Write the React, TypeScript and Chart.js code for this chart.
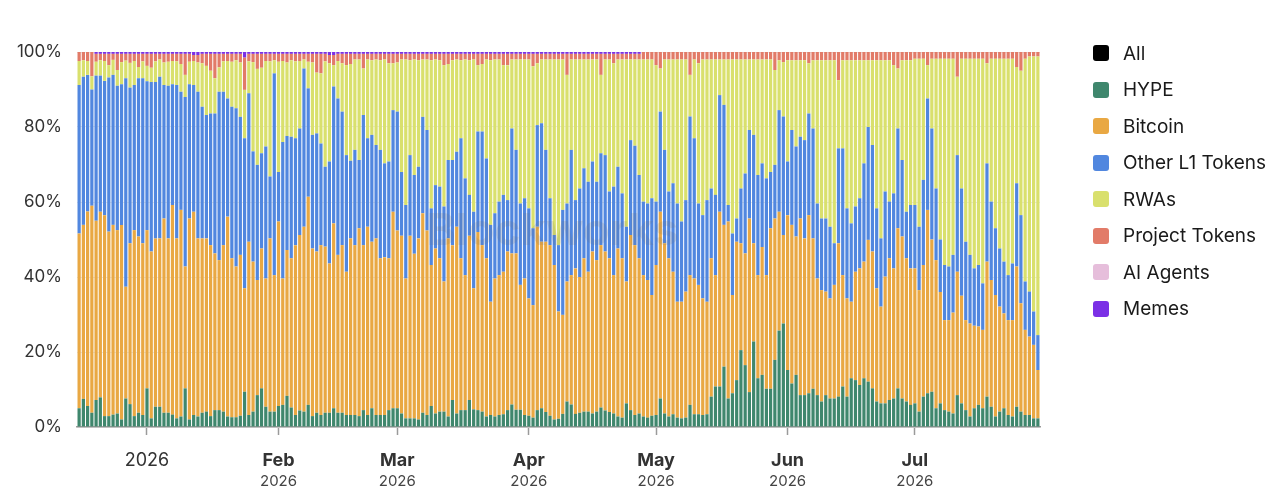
import React, { useEffect, useRef } from "react";
import { Chart, registerables } from "chart.js";

Chart.register(...registerables);

// ---- categories: one bar per day, 16 Dec 2025 .. 30 Jul 2026 ----
const START_DAY = Date.UTC(2025, 11, 16);
const DAY_COUNT = 227;
const dates: string[] = Array.from({ length: DAY_COUNT }, (_, i) =>
  new Date(START_DAY + i * 86400000).toISOString().slice(0, 10)
);

// ---- x tick labels (at month starts) ----
const tickMonthLine = ["2026", "Feb", "Mar", "Apr", "May", "Jun", "Jul"];
const tickYearLine = ["", "2026", "2026", "2026", "2026", "2026", "2026"];

// ---- y tick labels ----
const yTicks = [0, 20, 40, 60, 80, 100];

// ---- series (share of volume, %) ----
const hype = [
  5.0, 7.5, 5.6, 3.8, 7.2, 7.9, 2.9, 2.9, 3.3, 3.6, 2.0, 7.6, 6.1, 2.9, 3.8, 3.2, 10.3, 2.3, 5.4, 5.4, 3.8, 3.8, 3.3, 2.3, 2.8, 10.3, 2.0, 3.2, 2.8, 3.8, 4.1, 2.9, 4.5,
  4.5, 4.1, 2.8, 2.6, 2.6, 3.0, 9.4, 3.2, 4.1, 8.5, 10.3, 5.4, 4.1, 4.1, 5.6, 5.9, 8.3, 5.2, 3.2, 4.4, 4.1, 5.9, 2.9, 3.8, 3.2, 3.8, 3.8, 5.0, 3.8, 3.8, 3.2, 3.2,
  3.2, 2.9, 4.5, 3.2, 5.0, 3.2, 3.2, 3.2, 4.5, 5.0, 5.0, 3.6, 2.3, 2.3, 2.3, 2.0, 3.8, 3.2, 5.6, 3.6, 4.1, 4.1, 2.8, 7.2, 3.6, 4.5, 4.5, 7.2, 4.7, 4.5, 4.1, 2.8, 3.2,
  2.8, 3.2, 3.4, 4.5, 6.0, 4.6, 4.6, 3.2, 3.0, 2.5, 4.5, 5.0, 4.0, 3.0, 2.0, 2.2, 3.5, 6.8, 6.0, 3.5, 3.8, 4.1, 4.1, 3.6, 4.1, 5.2, 4.4, 4.0, 3.6, 2.8, 2.5, 6.3, 4.5,
  3.2, 3.6, 2.8, 2.5, 3.0, 3.2, 7.6, 3.6, 2.8, 3.4, 2.5, 2.3, 2.5, 5.9, 3.4, 3.4, 3.2, 3.4, 8.1, 10.8, 10.8, 16.1, 7.6, 9.0, 12.5, 20.5, 16.5, 9.3, 22.8, 13.0, 13.9, 10.2, 10.2,
  17.9, 25.7, 27.6, 15.2, 11.6, 13.9, 8.5, 8.5, 9.0, 10.2, 8.5, 6.8, 8.5, 7.6, 7.6, 8.1, 10.8, 8.1, 13.0, 12.5, 11.2, 13.0, 12.1, 10.3, 6.8, 6.3, 6.3, 7.2, 7.6, 10.3, 7.6, 6.8, 5.9,
  6.3, 4.1, 8.1, 9.0, 9.4, 5.0, 6.3, 4.5, 4.1, 3.6, 8.5, 6.3, 4.5, 2.8, 5.0, 5.9, 5.0, 8.1, 5.4, 2.8, 4.1, 5.0, 3.2, 2.8, 5.4, 4.1, 3.2, 3.2, 2.3, 2.3,
];

const bitcoin = [
  46.6, 46.4, 51.9, 55.2, 47.8, 49.5, 53.6, 49.2, 50.6, 48.9, 51.9, 29.8, 42.9, 49.6, 47.0, 45.8, 42.2, 44.5, 44.9, 44.9, 51.8, 46.5, 55.9, 48.0, 55.1, 32.5, 53.6, 54.2, 47.5, 46.5, 46.2, 45.6, 41.8,
  40.0, 44.4, 53.3, 42.4, 40.2, 42.9, 27.6, 46.2, 40.0, 30.7, 37.3, 34.2, 46.2, 36.4, 49.2, 33.7, 38.9, 39.8, 45.3, 46.8, 49.3, 55.5, 44.7, 43.0, 45.3, 44.3, 39.8, 49.3, 42.1, 44.7, 38.2, 47.1,
  45.3, 50.1, 44.0, 50.2, 44.4, 47.1, 41.8, 42.1, 40.5, 52.4, 47.4, 47.4, 37.3, 48.7, 43.9, 48.3, 53.2, 49.2, 37.6, 44.0, 40.9, 34.7, 47.5, 41.3, 49.8, 40.5, 36.0, 43.8, 32.3, 47.5, 44.4, 42.2, 30.2,
  36.8, 37.3, 38.0, 42.3, 40.3, 41.7, 33.3, 36.4, 31.3, 30.0, 48.9, 44.4, 45.4, 45.5, 41.2, 28.6, 26.4, 32.0, 34.5, 38.8, 36.2, 40.9, 37.3, 43.2, 40.4, 43.3, 42.4, 41.0, 36.9, 44.8, 42.5, 32.5, 46.7,
  45.3, 41.4, 37.7, 36.7, 32.2, 40.0, 49.8, 45.4, 42.2, 38.0, 30.9, 31.1, 33.6, 34.6, 36.2, 34.5, 31.1, 30.0, 36.9, 29.7, 46.6, 37.8, 47.2, 26.2, 36.9, 28.5, 29.8, 46.3, 26.2, 27.5, 34.1, 30.3, 42.8,
  37.7, 31.7, 23.6, 41.3, 42.3, 36.9, 47.1, 41.8, 47.5, 40.1, 31.1, 29.7, 27.6, 26.7, 30.3, 40.9, 29.7, 26.2, 20.4, 28.9, 31.1, 31.1, 37.8, 36.5, 30.2, 25.8, 33.8, 37.8, 34.7, 42.7, 43.2, 38.2, 36.4,
  36.0, 32.4, 35.1, 48.9, 40.6, 39.5, 29.7, 24.0, 24.4, 26.9, 32.9, 28.7, 24.0, 24.8, 22.0, 20.9, 20.9, 36.0, 33.8, 32.4, 28.0, 25.3, 25.3, 25.7, 37.4, 28.9, 22.7, 20.9, 19.6, 12.9,
];

const otherL1 = [
  39.6, 39.5, 36.4, 31.0, 38.7, 36.3, 35.8, 41.1, 40.0, 38.5, 37.5, 55.6, 41.5, 38.7, 42.2, 44.0, 39.7, 45.2, 41.7, 43.1, 35.6, 40.7, 32.2, 40.9, 31.5, 45.2, 35.8, 33.8, 39.1, 35.1, 32.9, 35.1, 37.3,
  44.9, 40.9, 31.5, 40.4, 42.2, 36.8, 40.0, 39.6, 29.4, 30.7, 25.4, 35.2, 16.5, 53.8, 13.2, 36.4, 30.4, 32.4, 28.5, 28.4, 42.2, 28.9, 30.3, 31.5, 27.1, 21.3, 27.2, 36.5, 41.7, 35.6, 31.1, 20.7,
  25.4, 18.2, 34.7, 23.6, 28.5, 24.9, 28.9, 25.0, 25.8, 27.1, 31.7, 17.0, 19.6, 21.5, 21.0, 19.1, 25.7, 26.8, 15.1, 16.9, 19.1, 20.0, 20.9, 22.7, 20.0, 32.0, 25.8, 10.9, 20.4, 26.8, 30.3, 26.6, 20.5,
  17.4, 19.6, 20.5, 13.7, 33.3, 27.6, 21.7, 21.4, 24.0, 20.5, 27.1, 31.6, 24.5, 12.5, 8.0, 17.7, 28.0, 20.8, 33.4, 18.2, 23.6, 24.0, 24.0, 24.0, 20.9, 24.5, 25.7, 17.8, 23.6, 21.8, 17.3, 14.6, 25.3,
  26.5, 22.2, 19.6, 20.4, 25.8, 16.9, 26.7, 24.9, 17.8, 23.6, 26.2, 21.4, 24.4, 42.3, 37.4, 21.7, 22.2, 27.1, 18.6, 21.4, 31.1, 32.0, 4.4, 16.4, 6.2, 14.6, 21.3, 23.6, 28.9, 26.7, 22.3, 25.8, 15.0,
  14.3, 27.1, 31.6, 14.3, 25.3, 24.0, 21.8, 26.2, 27.1, 29.3, 20.0, 19.1, 19.5, 19.1, 11.1, 25.3, 33.8, 24.0, 20.9, 17.4, 18.7, 26.2, 30.1, 28.4, 21.3, 18.2, 22.7, 15.1, 20.0, 26.6, 20.4, 12.4, 16.9,
  16.9, 16.9, 22.7, 29.7, 29.6, 19.1, 14.0, 14.7, 14.3, 15.4, 31.1, 28.6, 20.9, 18.3, 15.3, 16.4, 12.4, 26.2, 20.9, 17.8, 15.5, 13.8, 12.0, 15.1, 22.2, 23.5, 12.9, 12.0, 8.9, 9.3,
];

const rwas = [
  6.4, 4.4, 3.7, 3.5, 3.7, 4.1, 5.3, 3.3, 4.0, 4.2, 5.9, 4.7, 6.6, 6.4, 3.0, 4.5, 4.1, 3.8, 5.5, 4.6, 6.0, 6.4, 6.2, 6.3, 7.4, 5.9, 6.0, 6.4, 7.8, 11.6, 13.1, 11.4, 9.4,
  6.5, 8.1, 10.0, 12.0, 12.8, 14.5, 12.9, 8.5, 23.8, 25.6, 22.8, 22.8, 30.7, 3.5, 29.4, 21.6, 19.6, 20.4, 20.5, 18.0, 2.4, 7.1, 19.3, 16.2, 18.7, 28.1, 26.2, 5.7, 10.0, 12.9, 24.0, 25.8,
  24.1, 26.8, 12.4, 21.0, 19.9, 22.8, 23.9, 27.7, 26.2, 12.5, 13.1, 30.0, 38.8, 25.3, 30.8, 28.4, 15.3, 18.8, 39.5, 33.5, 33.7, 37.7, 25.6, 26.6, 24.6, 20.8, 31.7, 35.9, 40.6, 17.7, 18.0, 26.4, 43.9,
  41.0, 37.9, 34.6, 36.0, 18.4, 24.1, 38.4, 37.0, 39.7, 43.2, 16.5, 17.0, 24.1, 37.0, 46.8, 49.5, 40.1, 34.3, 24.1, 37.5, 34.4, 29.0, 32.6, 27.2, 32.6, 20.9, 25.5, 35.2, 32.9, 28.6, 35.7, 44.6, 21.5,
  23.0, 30.8, 37.9, 38.4, 37.0, 36.4, 11.5, 24.1, 35.2, 33.0, 38.4, 43.2, 37.5, 11.1, 21.0, 37.4, 41.5, 37.5, 34.4, 36.1, 9.5, 12.1, 38.8, 46.4, 42.4, 34.4, 30.4, 18.8, 20.1, 30.8, 27.7, 31.7, 30.0,
  25.3, 13.3, 14.5, 27.0, 18.6, 23.0, 20.4, 21.3, 13.4, 18.2, 38.2, 42.2, 42.2, 44.4, 48.8, 18.2, 23.5, 39.5, 43.5, 39.0, 36.8, 27.5, 17.8, 22.6, 39.5, 47.5, 35.0, 37.7, 34.2, 16.0, 26.6, 40.4, 38.6,
  39.0, 44.8, 32.3, 8.9, 18.6, 34.6, 48.2, 55.0, 55.4, 52.3, 20.9, 34.6, 48.8, 52.3, 55.9, 55.0, 59.9, 26.7, 38.1, 45.2, 50.6, 54.1, 57.7, 54.6, 31.0, 38.5, 59.4, 62.7, 68.0, 74.3,
];

const projectTokens = [
  2.4, 2.2, 2.4, 6.5, 2.1, 1.7, 1.9, 3.0, 1.6, 4.3, 2.2, 1.8, 2.4, 1.9, 3.5, 2.0, 3.2, 3.7, 2.0, 1.5, 2.3, 2.1, 1.9, 2.0, 2.7, 5.6, 2.1, 1.6, 2.0, 2.5, 3.2, 4.5, 6.5,
  3.6, 2.0, 1.9, 2.1, 1.7, 2.3, 8.6, 2.0, 2.2, 4.0, 3.7, 1.9, 2.0, 1.7, 2.1, 1.9, 2.3, 1.7, 2.0, 1.9, 1.5, 2.1, 2.3, 5.0, 5.2, 2.0, 2.2, 2.7, 1.9, 2.5, 3.0, 2.7,
  1.5, 1.5, 3.9, 1.5, 1.7, 1.5, 1.7, 1.5, 2.5, 2.5, 2.3, 1.5, 1.5, 1.7, 1.5, 1.7, 1.5, 1.5, 1.7, 1.5, 1.7, 3.0, 2.7, 1.7, 1.5, 1.7, 1.5, 1.7, 1.5, 3.0, 2.7, 1.5, 1.7,
  1.5, 1.5, 3.0, 3.0, 1.5, 1.5, 1.5, 1.5, 1.5, 3.3, 2.5, 1.5, 1.5, 1.5, 1.5, 1.5, 1.5, 5.6, 1.5, 1.5, 1.5, 1.5, 1.5, 1.5, 1.5, 5.6, 1.5, 1.5, 2.5, 1.5, 1.5, 1.5, 1.5,
  1.5, 1.5, 2.0, 2.0, 2.0, 3.5, 4.4, 2.0, 2.0, 2.0, 2.0, 2.0, 2.0, 6.1, 2.0, 3.0, 2.0, 2.0, 2.0, 2.0, 2.0, 2.0, 2.0, 2.0, 2.0, 2.0, 2.0, 2.0, 2.0, 2.0, 2.0, 2.0, 2.0,
  4.8, 2.2, 2.7, 2.2, 2.2, 2.2, 2.2, 2.2, 3.0, 2.2, 2.2, 2.2, 2.2, 2.2, 2.2, 7.5, 2.2, 2.2, 2.2, 2.2, 2.2, 2.2, 2.2, 2.2, 2.2, 2.2, 2.2, 2.2, 3.5, 4.4, 2.2, 2.2, 2.2,
  1.8, 1.8, 1.8, 3.5, 1.8, 1.8, 1.8, 1.8, 1.8, 1.8, 6.6, 1.8, 1.8, 1.8, 1.8, 1.8, 1.8, 3.0, 1.8, 1.8, 1.8, 1.8, 1.8, 1.8, 4.0, 5.0, 1.8, 1.2, 1.2, 1.2,
];

const aiAgents: number[] = [];

const memes = [
  0, 0, 0, 0, 0.5, 0.5, 0.5, 0.5, 0.5, 0.5, 0.5, 0.5, 0.5, 0.5, 0.5, 0.5, 0.5, 0.5, 0.5, 0.5, 0.5, 0.5, 0.5, 0.5, 0.5, 0.5, 0.5, 0.8, 0.8, 0.5, 0.5, 0.5, 0.5,
  0.5, 0.5, 0.5, 0.5, 0.5, 0.5, 1.5, 0.5, 0.5, 0.5, 0.5, 0.5, 0.5, 0.5, 0.5, 0.5, 0.5, 0.5, 0.5, 0.5, 0.5, 0.5, 0.5, 0.5, 0.5, 0.5, 0.8, 0.8, 0.5, 0.5, 0.5, 0.5,
  0.5, 0.5, 0.5, 0.5, 0.5, 0.5, 0.5, 0.5, 0.5, 0.5, 0.5, 0.5, 0.5, 0.5, 0.5, 0.5, 0.5, 0.5, 0.5, 0.5, 0.5, 0.5, 0.5, 0.5, 0.5, 0.5, 0.5, 0.5, 0.5, 0.5, 0.5, 0.5, 0.5,
  0.5, 0.5, 0.5, 0.5, 0.5, 0.5, 0.5, 0.5, 0.5, 0.5, 0.5, 0.5, 0.5, 0.5, 0.5, 0.5, 0.5, 0.5, 0.5, 0.5, 0.5, 0.5, 0.5, 0.5, 0.5, 0.5, 0.5, 0.5, 0.5, 0.5, 0.5, 0.5, 0.5,
  0.5, 0.5, 0, 0, 0, 0, 0, 0, 0, 0, 0, 0, 0, 0, 0, 0, 0, 0, 0, 0, 0, 0, 0, 0, 0, 0, 0, 0, 0, 0, 0, 0, 0,
  0, 0, 0, 0, 0, 0, 0, 0, 0, 0, 0, 0, 0, 0, 0, 0, 0, 0, 0, 0, 0, 0, 0, 0, 0, 0, 0, 0, 0, 0, 0, 0, 0,
  0, 0, 0, 0, 0, 0, 0, 0, 0, 0, 0, 0, 0, 0, 0, 0, 0, 0, 0, 0, 0, 0, 0, 0, 0, 0, 0, 0, 0, 0,
];

const allSeries: number[] = [];

const seriesNames = ["All", "HYPE", "Bitcoin", "Other L1 Tokens", "RWAs", "Project Tokens", "AI Agents", "Memes"];
const seriesColors = ["#000000", "#3f876d", "#e9a843", "#5187df", "#d9e06d", "#e27b68", "#e6bedb", "#7b30e6"];
const seriesData = [allSeries, hype, bitcoin, otherL1, rwas, projectTokens, aiAgents, memes];

const watermarkText = "Blockworks";

const FONT = "Inter, 'Noto Sans', 'DejaVu Sans', sans-serif";

const monthStartIdx = dates
  .map((d, i) => (d.endsWith("-01") ? i : -1))
  .filter((i) => i >= 0);

const xLabelPlugin = {
  id: "xMonthLabels",
  afterDraw(chart: any) {
    const { ctx, chartArea } = chart;
    const x = chart.scales.x;
    ctx.save();
    ctx.textAlign = "center";
    ctx.textBaseline = "middle";
    monthStartIdx.forEach((idx, k) => {
      const px = x.getPixelForValue(idx);
      const first = tickMonthLine[k] ?? "";
      const second = tickYearLine[k] ?? "";
      ctx.fillStyle = "#333333";
      ctx.font = (second ? "bold " : "") + "18px " + FONT;
      ctx.fillText(first, px, chartArea.bottom + 34);
      if (second) {
        ctx.fillStyle = "#444444";
        ctx.font = "15px " + FONT;
        ctx.fillText(second, px, chartArea.bottom + 54);
      }
    });
    ctx.restore();
  },
};

const watermarkPlugin = {
  id: "watermark",
  afterDatasetsDraw(chart: any) {
    const { ctx, chartArea } = chart;
    ctx.save();
    ctx.textAlign = "center";
    ctx.textBaseline = "middle";
    ctx.fillStyle = "rgba(110,110,110,0.16)";
    ctx.font = "bold 44px " + FONT;
    const cx = (chartArea.left + chartArea.right) / 2;
    const cy = chartArea.top + (chartArea.bottom - chartArea.top) * 0.48;
    ctx.fillText(watermarkText, cx - 6, cy);
    ctx.restore();
  },
};

export default function App() {
  const canvasRef = useRef<HTMLCanvasElement | null>(null);

  useEffect(() => {
    document.body.style.margin = "0";
    const canvas = canvasRef.current;
    if (!canvas) return;
    const monthSet = new Set(monthStartIdx);

    const chart = new Chart(canvas, {
      type: "bar",
      data: {
        labels: dates,
        datasets: seriesNames.map((name, i) => ({
          label: name,
          data: seriesData[i],
          backgroundColor: seriesColors[i],
          borderWidth: 0,
          barPercentage: 0.76,
          categoryPercentage: 1.0,
          stack: "s",
        })),
      },
      options: {
        animation: false,
        responsive: true,
        maintainAspectRatio: false,
        layout: { padding: { top: 52, right: 240, bottom: 0, left: 0 } },
        plugins: {
          legend: { display: false },
          tooltip: { enabled: false },
        },
        scales: {
          x: {
            type: "category",
            stacked: true,
            offset: true,
            grid: {
              display: true,
              offset: false,
              drawOnChartArea: false,
              drawTicks: true,
              tickLength: 8,
              tickWidth: 1.5,
              tickColor: (c: any) => (monthSet.has(c.index) ? "#9a9a9a" : "rgba(0,0,0,0)"),
            },
            border: { display: true, color: "#9a9a9a", width: 1.5 },
            ticks: { display: false, autoSkip: false },
            afterFit: (scale: any) => {
              scale.height = 73;
            },
          },
          y: {
            stacked: true,
            min: 0,
            max: 100,
            afterBuildTicks: (scale: any) => {
              scale.ticks = yTicks.map((v) => ({ value: v }));
            },
            grid: { color: "#e8e8e8", drawTicks: false },
            border: { display: false },
            ticks: {
              padding: 15,
              color: "#333333",
              font: { size: 17, family: FONT },
              callback: (v: any) => v + "%",
            },
            afterFit: (scale: any) => {
              scale.width = 77;
            },
          },
        },
      },
      plugins: [watermarkPlugin, xLabelPlugin],
    });

    return () => {
      chart.destroy();
    };
  }, []);

  return (
    <div style={{ position: "relative", width: 1280, height: 500, background: "#ffffff", fontFamily: FONT }}>
      <canvas ref={canvasRef} style={{ position: "absolute", left: 0, top: 0, width: 1280, height: 500 }} />
      <div style={{ position: "absolute", left: 1093, top: 34.75 }}>
        {seriesNames.map((name, i) => (
          <div key={name} style={{ display: "flex", alignItems: "center", height: 36.5 }}>
            <span
              style={{
                display: "inline-block",
                width: 16,
                height: 16,
                borderRadius: 3,
                background: seriesColors[i],
                marginRight: 14,
              }}
            />
            <span style={{ fontSize: 19, color: "#1a1a1a", whiteSpace: "nowrap" }}>{name}</span>
          </div>
        ))}
      </div>
    </div>
  );
}
